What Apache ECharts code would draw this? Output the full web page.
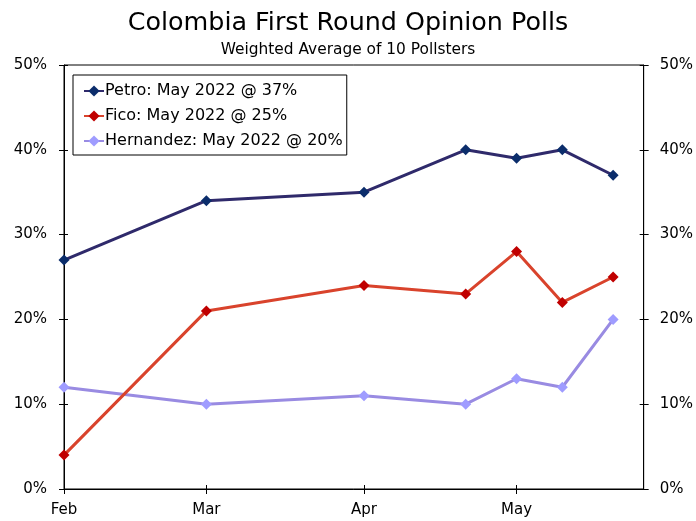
<!DOCTYPE html>
<html>
<head>
<meta charset="utf-8">
<script src="https://cdn.jsdelivr.net/npm/echarts@6/dist/echarts.min.js"></script>
<style>
html,body{margin:0;padding:0;background:#fff;}
#chart{width:696px;height:521px;}
</style>
</head>
<body>
<div id="chart"></div>
<script>
// ---- Data ----
var pollDates = ['2022-02-01','2022-03-01','2022-04-01','2022-04-21','2022-05-01','2022-05-10','2022-05-20'];
var petro     = [27, 34, 35, 40, 39, 40, 37];
var fico      = [4, 21, 24, 23, 28, 22, 25];
var hernandez = [12, 10, 11, 10, 13, 12, 20];
var seriesNames = ['Petro: May 2022 @ 37%', 'Fico: May 2022 @ 25%', 'Hernandez: May 2022 @ 20%'];
var axisMinDate = '2022-02-01';
var axisMaxDate = '2022-05-26';
var yTicks = [0, 10, 20, 30, 40, 50];

function pairs(vals){ return pollDates.map(function(d,i){ return [d, vals[i]]; }); }

var FONT = 'DejaVu Sans, Verdana, sans-serif';
var chart = echarts.init(document.getElementById('chart'), null, {renderer:'canvas'});

var yBase = {
  type:'value', min:yTicks[0], max:yTicks[yTicks.length-1], interval:10,
  splitLine:{show:false}
};
function yAx(pos, inside, labels){
  return Object.assign({}, yBase, {
    position:pos,
    axisLine:{show:!inside, lineStyle:{color:'#000', width:1}},
    axisTick:{show:true, inside:inside, length:inside?4:5, lineStyle:{color:'#000', width:1}},
    axisLabel:{show:labels, formatter:'{value}%', color:'#000', fontFamily:FONT, fontSize:15, margin:pos==='left'?17:16}
  });
}
function xAx(inside, labels){
  return {
    type:'time', min:axisMinDate, max:axisMaxDate, splitNumber:4,
    position:'bottom',
    splitLine:{show:false},
    axisLine:{show:!inside, onZero:false, lineStyle:{color:'#000', width:1}},
    axisTick:{show:true, inside:inside, length:inside?4:5, lineStyle:{color:'#000', width:1}},
    minorTick:{show:false},
    axisLabel:{show:labels, formatter:'{MMM}', color:'#000', fontFamily:FONT, fontSize:15, margin:14,
               showMinLabel:true, showMaxLabel:false}
  };
}

var lineColors = ['#2f2a6b', '#d9432c', '#998be2'];
var markColors = ['#0b2d6b', '#c00000', '#9f9cff'];
var datasets = [petro, fico, hernandez];

var series = datasets.map(function(vals, i){
  return {
    name: seriesNames[i], type:'line', data: pairs(vals),
    xAxisIndex:0, yAxisIndex:0,
    symbol:'diamond', symbolSize:11, showSymbol:true,
    lineStyle:{color:lineColors[i], width:3},
    itemStyle:{color:markColors[i]},
    emphasis:{disabled:true},
    z: 3 - i + 2
  };
});

chart.setOption({
  animation:false,
  backgroundColor:'#fff',
  title:[
    {text:'Colombia First Round Opinion Polls', left:'center', top:6,
     textStyle:{fontFamily:FONT, fontSize:25.4, fontWeight:'normal', color:'#000'}},
    {text:'Weighted Average of 10 Pollsters', left:'center', top:37,
     textStyle:{fontFamily:FONT, fontSize:15.4, fontWeight:'normal', color:'#000'}}
  ],
  legend:{
    orient:'vertical', left:73, top:75,
    backgroundColor:'#fff', borderColor:'#000', borderWidth:1,
    padding:[8,4,6,10], itemGap:9, itemWidth:20, itemHeight:14,
    textStyle:{fontFamily:FONT, fontSize:16, color:'#000', padding:[0,0,0,-4]},
    data: seriesNames
  },
  grid:{left:64, right:52, top:65, bottom:32, show:true, borderColor:'#000', borderWidth:1, backgroundColor:'transparent'},
  xAxis:[ xAx(false, true), xAx(true, false) ],
  yAxis:[ yAx('left', false, true), yAx('left', true, false), yAx('right', false, true), yAx('right', true, false) ],
  series: series
});
</script>
</body>
</html>
